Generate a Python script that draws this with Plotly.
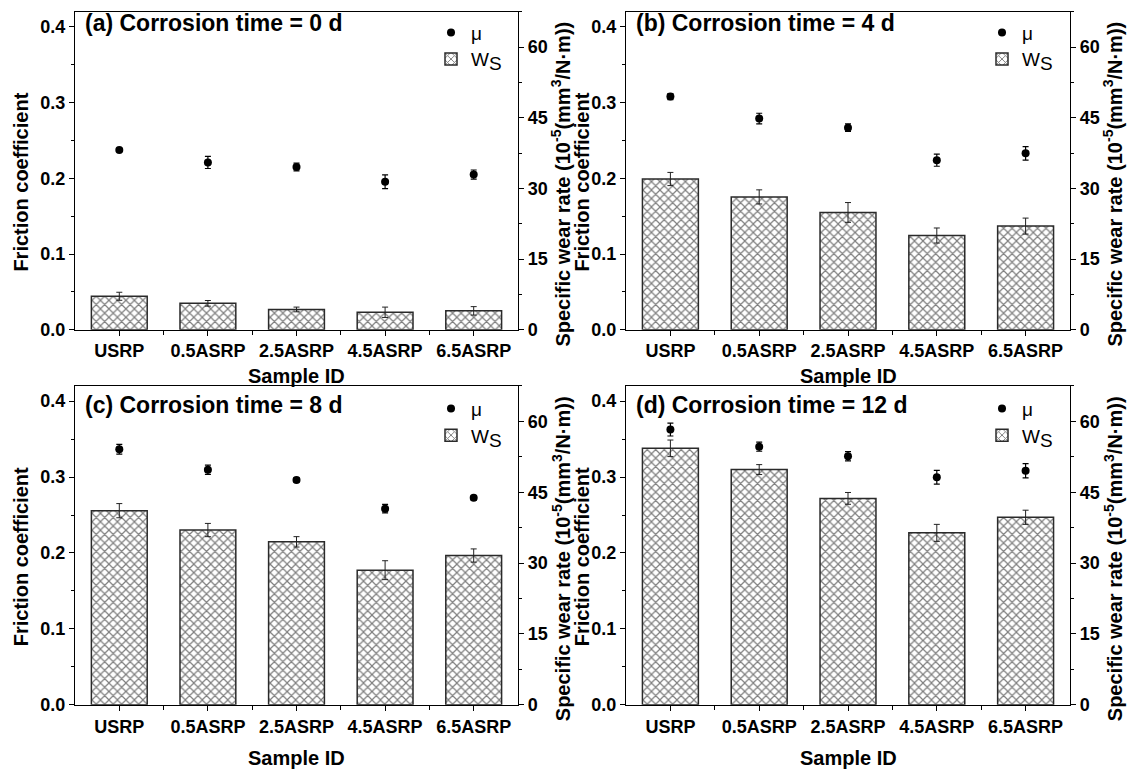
import plotly.graph_objects as go

# Sample groups on the x axis
samples = ["USRP", "0.5ASRP", "2.5ASRP", "4.5ASRP", "6.5ASRP"]
x_pos = [0, 1, 2, 3, 4]

panel_titles = [
    "(a) Corrosion time = 0 d",
    "(b) Corrosion time = 4 d",
    "(c) Corrosion time = 8 d",
    "(d) Corrosion time = 12 d",
]

# Friction coefficient (mean, std) per corrosion time
mu_0d = [0.2375, 0.221, 0.215, 0.1955, 0.205]
mu_0d_err = [0.002, 0.008, 0.005, 0.009, 0.006]
mu_4d = [0.308, 0.279, 0.267, 0.224, 0.233]
mu_4d_err = [0.004, 0.007, 0.005, 0.008, 0.009]
mu_8d = [0.3366, 0.3096, 0.2962, 0.2584, 0.2727]
mu_8d_err = [0.0065, 0.006, 0.003, 0.0055, 0.003]
mu_12d = [0.3626, 0.340, 0.3274, 0.2997, 0.3083]
mu_12d_err = [0.0085, 0.006, 0.006, 0.009, 0.0095]

# Specific wear rate, 10^-5 mm^3/(N·m) (mean, std)
ws_0d = [7.1, 5.6, 4.3, 3.7, 4.0]
ws_0d_err = [0.85, 0.6, 0.5, 1.1, 0.9]
ws_4d = [32.0, 28.2, 24.9, 20.0, 22.0]
ws_4d_err = [1.4, 1.5, 2.1, 1.6, 1.7]
ws_8d = [41.1, 37.0, 34.5, 28.5, 31.6]
ws_8d_err = [1.5, 1.4, 1.1, 2.0, 1.4]
ws_12d = [54.3, 49.8, 43.7, 36.4, 39.7]
ws_12d_err = [1.75, 1.05, 1.25, 1.8, 1.5]

mu_ticks = [0.0, 0.1, 0.2, 0.3, 0.4]
ws_ticks = [0, 15, 30, 45, 60]

panels = [
    (mu_0d, mu_0d_err, ws_0d, ws_0d_err),
    (mu_4d, mu_4d_err, ws_4d, ws_4d_err),
    (mu_8d, mu_8d_err, ws_8d, ws_8d_err),
    (mu_12d, mu_12d_err, ws_12d, ws_12d_err),
]

W, H = 1134, 776
FONT = "Arial, 'Liberation Sans', sans-serif"
col_px = [(75, 518), (626, 1070)]
row_px = [(12, 334), (391, 714)]
title_y = [23, 410]
mu_legend_y = [33, 414]
ws_legend_y = [60, 441]
sample_id_y = [381, 768]

fig = go.Figure()
layout = {}
annotations = []

for p, (mu, mu_err, ws, ws_err) in enumerate(panels):
    r, c = divmod(p, 2)
    n = p + 1
    xname = "x" if n == 1 else f"x{n}"
    xkey = "xaxis" if n == 1 else f"xaxis{n}"
    yb = 2 * p + 1
    ym = 2 * p + 2
    ybname = "y" if yb == 1 else f"y{yb}"
    ybkey = "yaxis" if yb == 1 else f"yaxis{yb}"
    ymname = f"y{ym}"
    ymkey = f"yaxis{ym}"
    lg_mu = "legend" if p == 0 else f"legend{2 * p + 1}"
    lg_ws = f"legend{2 * p + 2}"

    x0, x1 = col_px[c]
    t0, t1 = row_px[r]
    xd = [x0 / W, x1 / W]
    yd = [1 - t1 / H, 1 - t0 / H]

    fig.add_trace(go.Scatter(
        x=x_pos, y=mu, mode="markers", name="μ", showlegend=True,
        marker=dict(color="black", size=8),
        error_y=dict(type="data", array=mu_err, color="black", thickness=1.2, width=3),
        xaxis=xname, yaxis=ymname, legend=lg_mu,
    ))
    fig.add_trace(go.Bar(
        x=x_pos, y=ws, width=0.63, showlegend=True,
        name="W<sub><span style='font-size:19px'>S</span></sub>",
        marker=dict(
            color="white",
            line=dict(color="#2a2a2a", width=1.5),
            pattern=dict(shape="x", fgcolor="black", bgcolor="white", size=6, solidity=0.36),
        ),
        error_y=dict(type="data", array=ws_err, color="#222", thickness=1.0, width=3),
        xaxis=xname, yaxis=ybname, legend=lg_ws,
    ))

    axis_common = dict(
        showline=True, linecolor="black", linewidth=1.3,
        ticks="outside", ticklen=5, tickwidth=1.2, tickcolor="black",
        showgrid=False, zeroline=False,
        tickfont=dict(family=FONT, size=18, color="black", weight="bold"),
    )
    layout[xkey] = dict(
        axis_common, domain=xd, anchor=ybname, range=[-0.5, 4.5],
        tickmode="array", tickvals=x_pos, ticktext=samples, mirror=True,
        minor=dict(tickvals=[0.5, 1.5, 2.5, 3.5], ticks="outside", ticklen=4,
                   tickcolor="black", tickwidth=1),
    )
    layout[ybkey] = dict(
        axis_common, domain=yd, anchor=xname, side="right", range=[0, 67.5],
        tickmode="array", tickvals=ws_ticks, ticktext=[str(v) for v in ws_ticks],
        minor=dict(tickvals=[7.5, 22.5, 37.5, 52.5, 67.5], ticks="outside", ticklen=3,
                   tickcolor="black", tickwidth=1),
    )
    layout[ymkey] = dict(
        axis_common, overlaying=ybname, anchor=xname, side="left", range=[0, 0.42],
        tickmode="array", tickvals=mu_ticks, ticktext=[f"{v:.1f}" for v in mu_ticks],
        minor=dict(tickvals=[0.05, 0.15, 0.25, 0.35], ticks="outside", ticklen=3,
                   tickcolor="black", tickwidth=1),
    )

    for key, ly in ((lg_mu, mu_legend_y[r]), (lg_ws, ws_legend_y[r])):
        layout[key] = dict(
            x=(x0 + 356) / W, y=1 - ly / H, xanchor="left", yanchor="middle",
            bgcolor="rgba(0,0,0,0)", borderwidth=0,
            font=dict(family=FONT, size=19, color="black"),
        )

    # panel heading
    annotations.append(dict(
        text=f"<b>{panel_titles[p]}</b>", xref="paper", yref="paper",
        x=(x0 + 8) / W, y=1 - title_y[r] / H, xanchor="left", yanchor="middle",
        showarrow=False, font=dict(family=FONT, size=23, color="black"),
    ))
    # axis titles
    annotations.append(dict(
        text="<b>Friction coefficient</b>", xref="paper", yref="paper",
        x=(x0 - 44) / W if c == 1 else (x0 - 54) / W,
        y=1 - ((t0 + t1) / 2 + 12) / H, xanchor="center", yanchor="middle",
        textangle=-90, showarrow=False, font=dict(family=FONT, size=20, color="black"),
    ))
    annotations.append(dict(
        text="<b>Specific wear rate (10<sup>-5</sup>(mm<sup>3</sup>/N·m))</b>",
        xref="paper", yref="paper",
        x=(x1 + 43) / W, y=1 - ((t0 + t1) / 2 + 14) / H, xanchor="center", yanchor="middle",
        textangle=-90, showarrow=False, font=dict(family=FONT, size=20, color="black"),
    ))
    annotations.append(dict(
        text="<b>Sample ID</b>", xref="paper", yref="paper",
        x=(x0 + x1) / 2 / W, y=1 - sample_id_y[r] / H, xanchor="center", yanchor="middle",
        showarrow=False, font=dict(family=FONT, size=20, color="black"),
    ))

fig.update_layout(
    width=W, height=H, margin=dict(l=0, r=0, t=0, b=0),
    paper_bgcolor="white", plot_bgcolor="white",
    font=dict(family=FONT, color="black"),
    barmode="overlay", annotations=annotations, showlegend=True,
    **layout,
)

fig.write_html("out.html")
